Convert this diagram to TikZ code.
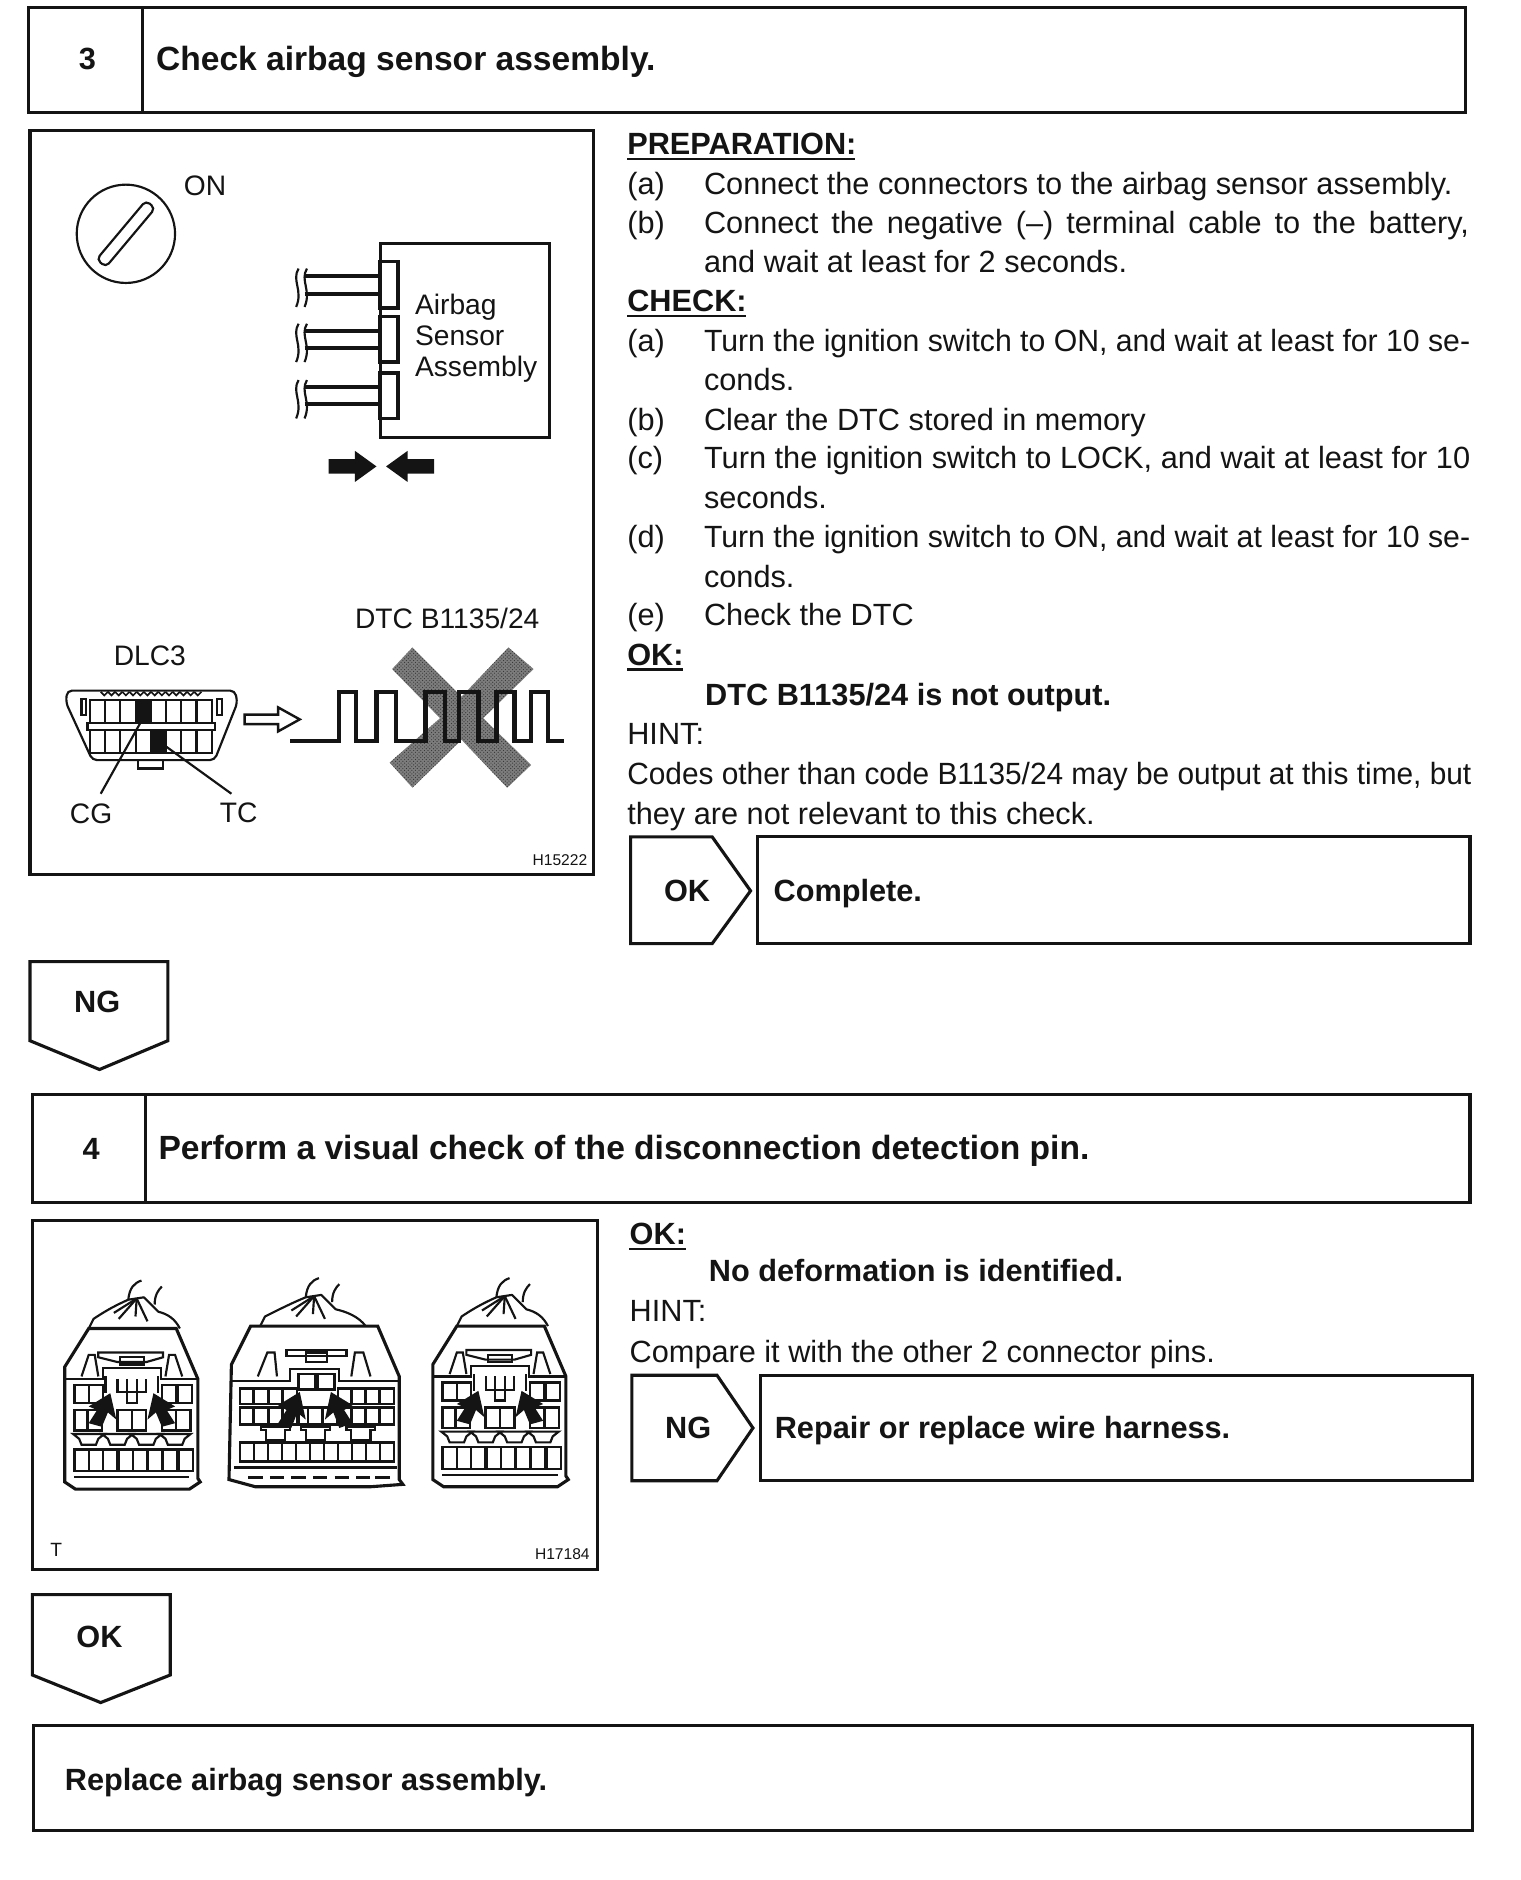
\documentclass[tikz,border=0pt]{standalone}
\usepackage{fontspec}
\setmainfont{Liberation Sans}
\usetikzlibrary{positioning,arrows.meta,calc,patterns}
\definecolor{inkline}{RGB}{20, 20, 20}
\definecolor{crossgray}{RGB}{125, 125, 125}
\newcommand{\fitline}[2]{\resizebox{#1pt}{\height}{#2}}
\tikzset{
  frame/.style={draw=inkline, line width=2.6pt, line join=miter, outer sep=0pt},
  thin line/.style={draw=inkline, line width=1.8pt},
  body/.style={anchor=base west, inner sep=0pt, font=\fontsize{25.6}{30}\selectfont, text=inkline},
  bold body/.style={body, font=\fontsize{25.6}{30}\selectfont\bfseries},
  head/.style={anchor=base west, inner sep=0pt, font=\fontsize{28}{32}\selectfont\bfseries, text=inkline},
  flag/.style={inner sep=0pt, font=\fontsize{25.6}{30}\selectfont\bfseries, text=inkline},
  fig label/.style={inner sep=0pt, font=\fontsize{23.5}{28}\selectfont, text=inkline},
  fig code/.style={inner sep=0pt, font=\fontsize{13}{15}\selectfont, text=inkline},
  wire/.style={draw=inkline, line width=3pt},
  pin/.style={draw=inkline, line width=2pt, fill=white},
  connpins/.pic={
    % shell and wire bundle
    \draw[thin line, line join=round] (-36,0) -- (-32,-8) .. controls (-20,-16) and (-12,-20) .. (-3,-24) -- (10,-26) -- (22,-14) .. controls (30,-12) and (36,-8) .. (40,0);
    \draw[thin line] (-3,-24) .. controls (-2,-34) and (2,-38) .. (8,-40);
    \draw[thin line] (19,-20) .. controls (19,-28) and (22,-32) .. (25,-35);
    \foreach \tx/\ty in {-15/-13,-11/-8,3/-10,13/-6} \draw[thin line] (4,-25) -- (\tx,\ty);
    \draw[frame] (-36,0) -- (37,0) -- (55,42) -- (55,125) -- (57,128) -- (48,134) -- (-47,134) -- (-56,128) -- (-56,32) -- cycle;
    \draw[thin line] (-56,42) -- (-24,42) -- (-24,33) -- (24,33) -- (24,42) -- (55,42);
    \draw[thin line] (-28,20) -- (26,20) -- (26,24) -- (12,28) -- (-12,28) -- (-28,24) -- cycle;
    \draw[thin line] (-10,24) rectangle (10,30);
    \draw[thin line] (-42,40) -- (-36,22) -- (-31,22) -- (-28,40);
    \draw[thin line] (28,40) -- (31,22) -- (36,22) -- (42,40);
    \draw[thin line] (-22,40) -- (-22,54) (22,40) -- (22,54);
    % rows of cavities
    \foreach \cx in {-48,-36,25,38} \draw[pin] (\cx,47) rectangle ++(12,15);
    \foreach \cx in {-48,-37,-12,0,25,37} \draw[pin] (\cx,68) rectangle ++(12,17);
    \foreach \cx in {-36,-12,12,36} \draw[thin line] (\cx-13,88) -- (\cx+13,88) -- (\cx+8,92) -- (\cx+6,97) -- (\cx-6,97) -- (\cx-8,92) -- cycle;
    \foreach \cx in {-48,-36,-24,-11,1,13,26,39} \draw[pin] (\cx,101) rectangle ++(12,18);
    \draw[thin line] (-12,42) -- (-12,53) -- (12,53) -- (12,42);
    \draw[thin line] (-4,42) -- (-4,62) -- (4,62) -- (4,42);
    \draw[thin line] (-48,124) -- (48,124);
    % arrows to the detection pins
    \fill[inkline] (-18,54) -- (-36,65) -- (-29,68) -- (-36,79) -- (-25,82) -- (-20,70) -- (-13,76) -- cycle;
    \fill[inkline] (18,54) -- (36,65) -- (29,68) -- (36,79) -- (25,82) -- (20,70) -- (13,76) -- cycle;
  },
  connwide/.pic={
    \draw[thin line, line join=round] (-46,0) -- (-42,-8) .. controls (-30,-14) and (-18,-20) .. (-8,-24) -- (5,-26) -- (17,-14) .. controls (26,-12) and (36,-8) .. (42,0);
    \draw[thin line] (-8,-24) .. controls (-7,-34) and (-3,-38) .. (3,-40);
    \draw[thin line] (14,-20) .. controls (14,-28) and (17,-32) .. (20,-35);
    \foreach \tx/\ty in {-20/-13,-16/-8,-2/-10,8/-6} \draw[thin line] (-1,-25) -- (\tx,\ty);
    \draw[frame] (-54,0) -- (52,0) -- (70,42) -- (70,128) -- (73,132) -- (46,134) -- (-50,134) -- (-72,128) -- (-70,32) -- cycle;
    \draw[thin line] (-70,46) -- (-21,46) -- (-21,36) -- (20,36) -- (20,46) -- (70,46);
    \draw[thin line] (-24,20) -- (26,20) -- (26,25) -- (-24,25) -- cycle;
    \draw[thin line] (-8,22) rectangle (10,30);
    \draw[thin line] (-48,42) -- (-40,22) -- (-34,22) -- (-32,42);
    \draw[thin line] (30,42) -- (33,22) -- (40,22) -- (46,42);
    \foreach \cx in {-63,-51,-39,-27,19,30,42,54}{
      \draw[pin] (\cx,52) rectangle ++(11.5,13);
      \draw[pin] (\cx,68) rectangle ++(11.5,14);
    }
    \foreach \cx in {-14,2} \draw[pin] (\cx,40) rectangle ++(14,13);
    \foreach \cx in {-14,-6,6} \draw[pin] (\cx,68) rectangle ++(12,14);
    \foreach \cx in {-33,0,38} \draw[thin line] (\cx-12,84) -- (\cx+12,84) -- (\cx+12,87) -- (\cx+8,87) -- (\cx+8,95) -- (\cx-8,95) -- (\cx-8,87) -- (\cx-12,87) -- cycle;
    \foreach \cx in {0,...,10} \draw[pin] ({-63+\cx*11.7},97) rectangle ++(11.7,16);
    \draw[thin line] (-68,118) -- (68,118);
    \foreach \cx in {-56,-38,-20,-2,16,34,50} \draw[draw=inkline, line width=2.4pt] (\cx,126) -- ++(12,0);
    \fill[inkline] (-13,55) -- (-31,66) -- (-24,70) -- (-31,81) -- (-20,85) -- (-15,72) -- (-8,78) -- cycle;
    \fill[inkline] (13,55) -- (31,66) -- (24,70) -- (31,81) -- (20,85) -- (15,72) -- (8,78) -- cycle;
  }
}

\begin{document}
\begin{tikzpicture}[x=1pt, y=-1pt]
  \useasboundingbox (0,0) rectangle (1268,1568);

  % step 3
  \node[frame, minimum width=1198pt, minimum height=88pt, anchor=north west, inner sep=0pt] (box3) at (24,6) {};
  \draw[frame] (119,6) -- (119,94);
  \node[flag] (num3) at (73,49) {3};
  \node[head] (title3) at (130,59) {Check airbag sensor assembly.};

  \node[frame, minimum width=470pt, minimum height=620pt, anchor=north west, inner sep=0pt] (fig3) at (25,109) {};

  % ignition key
  \node[circle, thin line, minimum size=82pt, inner sep=0pt] (key) at (105,195) {};
  \draw[thin line, rounded corners=4pt, rotate around={50:(key.center)}] (73,190) rectangle (137,200);
  \node[fig label] (on) at (171,155) {ON};

  % sensor with connectors
  \node[frame, minimum width=141pt, minimum height=162pt, anchor=north west, inner sep=0pt] (sensor) at (317,203) {};
  \foreach \ytop/\ybot/\wa/\wb in {218/257/230/245, 264/302/276/290, 311/349/323/337}{
    \draw[wire, fill=white] (317,\ytop) rectangle (332,\ybot);
    \draw[wire] (254,\wa) -- (317,\wa);
    \draw[wire] (254,\wb) -- (317,\wb);
    \draw[thin line] (249,\ytop+6) .. controls (243,\ytop+16) and (253,\ytop+24) .. (247,\ytop+38);
    \draw[thin line] (256,\ytop+6) .. controls (250,\ytop+16) and (260,\ytop+24) .. (254,\ytop+38);
  }
  \node[fig label, anchor=base west] (sens1) at (346,262) {Airbag};
  \node[fig label, anchor=base west] (sens2) at (346,288) {Sensor};
  \node[fig label, anchor=base west] (sens3) at (346,314) {Assembly};
  \fill[inkline] (274,383) -- (296,383) -- (296,376) -- (314,389) -- (296,402) -- (296,395) -- (274,395) -- cycle;
  \fill[inkline] (362,383) -- (340,383) -- (340,376) -- (322,389) -- (340,402) -- (340,395) -- (362,395) -- cycle;

  % DLC3 connector
  \node[fig label] (dlc) at (125,547) {DLC3};
  \draw[thin line, rounded corners=4pt] (56,576) -- (196,576) -- (198,586) -- (179,634) -- (77,634) -- (55,586) -- cycle;
  \foreach \zx in {0,...,13} \draw[draw=inkline, line width=1.4pt] ({84+\zx*6},577) -- ++(3,3) -- ++(3,-3);
  \draw[thin line] (115,634) rectangle (136,641);
  \draw[thin line] (68,583) rectangle (72,596);
  \draw[thin line] (181,583) rectangle (185,596);
  \foreach \cx in {0,...,7}{
    \draw[thin line] ({75+\cx*12.7},584) rectangle ++(12.7,19);
    \draw[thin line] ({75+\cx*12.7},609) rectangle ++(12.7,19);
  }
  \fill[inkline] (114,584) rectangle (125,603);
  \fill[inkline] (126,609) rectangle (139,628);
  \draw[thin line, fill=white] (73,603) rectangle (179,609);
  \coordinate (cgpin) at (117,603);
  \coordinate (cgend) at (84,662);
  \coordinate (tcpin) at (139,623);
  \coordinate (tcend) at (193,662);
  \node[fig label] (cg) at (76,679) {CG};
  \node[fig label] (tc) at (199,678) {TC};
  \draw[thin line] (cgpin) -- (cgend);
  \draw[thin line] (tcpin) -- (tcend);
  \draw[draw=inkline, fill=white, line width=2pt] (204,596) -- (232,596) -- (232,590) -- (250,600) -- (232,610) -- (232,604) -- (204,604) -- cycle;

  % code output with cross
  \node[fig label] (dtc) at (373,516) {DTC B1135/24};
  \path[fill=crossgray, postaction={pattern=crosshatch dots, pattern color=black!80}] (344,540) -- (385,581) -- (424,540) -- (445,558) -- (403,599) -- (443,638) -- (423,657) -- (385,617) -- (344,657) -- (325,636) -- (367,599) -- (327,558) -- cycle;
  \draw[draw=inkline, line width=3.6pt] (242,618) -- (283,618) -- (283,577) -- (297,577) -- (297,618) -- (314,618) -- (314,577) -- (330,577) -- (330,618) -- (355,618) -- (355,577) -- (371,577) -- (371,618) -- (383,618) -- (383,577) -- (399,577) -- (399,618) -- (414,618) -- (414,577) -- (429,577) -- (429,618) -- (443,618) -- (443,577) -- (457,577) -- (457,618) -- (470,618);
  \node[fig code] (code3) at (467,717) {H15222};

  % step 3 text
  \node[bold body] (prep) at (523,129) {PREPARATION:};
  \draw[thin line] (prep.south west) ++(0,3) -- ++(190,0);
  \node[body] (pa) at (523,162) {(a)};
  \node[body] (pat) at (587,162) {Connect the connectors to the airbag sensor assembly.};
  \node[body] (pb) at (523,195) {(b)};
  \node[body] (pbt) at (587,195) {\makebox[638pt][s]{Connect the negative (–) terminal cable to the battery,}};
  \node[body] (pbu) at (587,227) {and wait at least for 2 seconds.};
  \node[bold body] (check) at (523,260) {CHECK:};
  \draw[thin line] (check.south west) ++(0,3) -- ++(99,0);
  \node[body] (ca) at (523,293) {(a)};
  \node[body] (cat) at (587,293) {\fitline{639}{Turn the ignition switch to ON, and wait at least for 10 se-}};
  \node[body] (cau) at (587,326) {conds.};
  \node[body] (cb) at (523,359) {(b)};
  \node[body] (cbt) at (587,359) {Clear the DTC stored in memory};
  \node[body] (cc) at (523,391) {(c)};
  \node[body] (cct) at (587,391) {\fitline{639}{Turn the ignition switch to LOCK, and wait at least for 10}};
  \node[body] (ccu) at (587,424) {seconds.};
  \node[body] (cd) at (523,457) {(d)};
  \node[body] (cdt) at (587,457) {\fitline{639}{Turn the ignition switch to ON, and wait at least for 10 se-}};
  \node[body] (cdu) at (587,490) {conds.};
  \node[body] (ce) at (523,522) {(e)};
  \node[body] (cet) at (587,522) {Check the DTC};
  \node[bold body] (ok3) at (523,555) {OK:};
  \draw[thin line] (ok3.south west) ++(0,3) -- ++(47,0);
  \node[bold body] (okt3) at (588,588) {DTC B1135/24 is not output.};
  \node[body] (hint3) at (523,621) {HINT:};
  \node[body] (hinta) at (523,654) {\fitline{704}{Codes other than code B1135/24 may be output at this time, but}};
  \node[body] (hintb) at (523,688) {they are not relevant to this check.};

  % OK branch
  \draw[frame] (526,698) -- (594,698) -- (626,743) -- (594,787) -- (526,787) -- cycle;
  \node[flag] (okflag) at (573,743) {OK};
  \node[frame, minimum width=594pt, minimum height=89pt, anchor=north west, inner sep=0pt] (done) at (632,698) {};
  \node[bold body] (donet) at (645,752) {Complete.};

  % NG branch
  \draw[frame] (25,802) -- (140,802) -- (140,868) -- (83,892) -- (25,868) -- cycle;
  \node[flag] (ngflag) at (81,836) {NG};

  % step 4
  \node[frame, minimum width=1199pt, minimum height=90pt, anchor=north west, inner sep=0pt] (box4) at (27,913) {};
  \draw[frame] (121,913) -- (121,1003);
  \node[flag] (num4) at (76,958) {4};
  \node[head] (title4) at (132,967) {Perform a visual check of the disconnection detection pin.};

  \node[frame, minimum width=471pt, minimum height=291pt, anchor=north west, inner sep=0pt] (fig4) at (27,1018) {};
  \pic at (110,1108) {connpins};
  \pic at (263,1106) {connwide};
  \pic at (417,1106) {connpins};
  \node[fig code, font=\fontsize{16}{18}\selectfont] (tmark) at (47,1293) {T};
  \node[fig code] (code4) at (469,1296) {H17184};

  \node[bold body] (ok4) at (525,1038) {OK:};
  \draw[thin line] (ok4.south west) ++(0,3) -- ++(47,0);
  \node[bold body] (okt4) at (591,1069) {No deformation is identified.};
  \node[body] (hint4) at (525,1102) {HINT:};
  \node[body] (hintc) at (525,1136) {Compare it with the other 2 connector pins.};

  \draw[frame] (527,1147) -- (598,1147) -- (628,1191) -- (598,1235) -- (527,1235) -- cycle;
  \node[flag] (ngflag4) at (574,1191) {NG};
  \node[frame, minimum width=594pt, minimum height=88pt, anchor=north west, inner sep=0pt] (repair) at (634,1147) {};
  \node[bold body] (repairt) at (646,1200) {Repair or replace wire harness.};

  \draw[frame] (27,1330) -- (142,1330) -- (142,1397) -- (84,1420) -- (27,1397) -- cycle;
  \node[flag] (okflag4) at (83,1365) {OK};

  \node[frame, minimum width=1200pt, minimum height=88pt, anchor=north west, inner sep=0pt] (replace) at (28,1439) {};
  \node[bold body] (replacet) at (54,1493) {Replace airbag sensor assembly.};
\end{tikzpicture}
\end{document}
